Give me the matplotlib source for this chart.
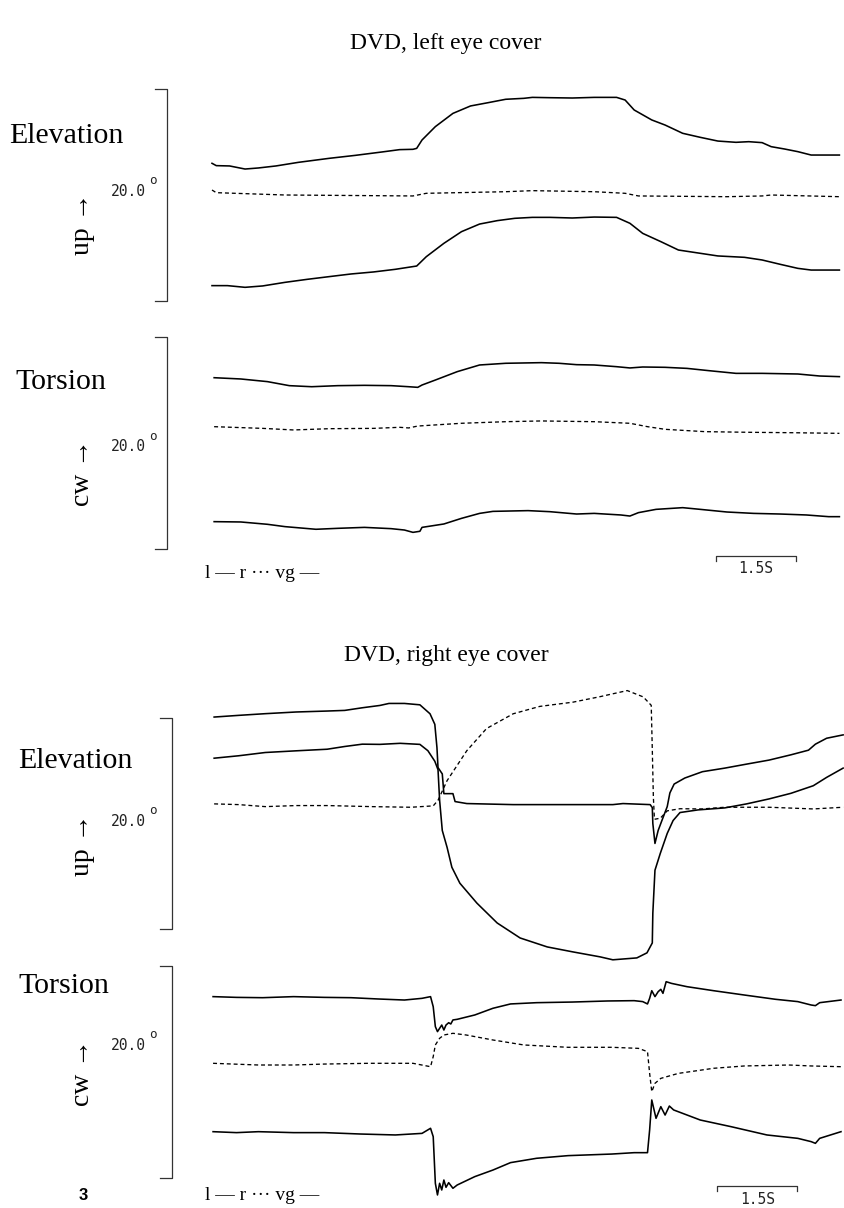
import matplotlib
matplotlib.use("Agg")
import matplotlib.pyplot as plt
from matplotlib.transforms import blended_transform_factory

# ---------------- data (time in s, position in deg above bracket bottom) -------------
# Panel 1: DVD, left eye cover -- Elevation
le_el_l_t = [0, 0.08, 0.33, 0.62, 0.87, 1.20, 1.62, 2.20, 2.69, 3.19, 3.52, 3.77, 3.84, 3.94,
             4.19, 4.52, 4.85, 5.18, 5.51, 5.85, 6.01, 6.34, 6.76, 7.17, 7.59, 7.75, 7.92, 8.25,
             8.50, 8.83, 9.16, 9.49, 9.83, 10.07, 10.32, 10.49, 10.74, 10.99, 11.24, 11.48, 11.77]
le_el_l = [12.99, 12.77, 12.74, 12.45, 12.55, 12.74, 13.08, 13.46, 13.74, 14.06, 14.28, 14.31,
           14.40, 15.19, 16.45, 17.70, 18.40, 18.71, 19.03, 19.12, 19.21, 19.18, 19.15, 19.21,
           19.21, 18.96, 18.02, 17.08, 16.60, 15.82, 15.44, 15.09, 14.97, 15.03, 14.94, 14.56,
           14.34, 14.09, 13.77, 13.77, 13.77]
le_el_r_t = [0, 0.08, 1.37, 3.77, 4.02, 5.51, 6.01, 7.17, 7.75, 8.00, 9.66, 10.32, 10.49, 11.77]
le_el_r = [10.47, 10.22, 10.00, 9.91, 10.16, 10.31, 10.41, 10.31, 10.16, 9.91, 9.84, 9.91,
           10.00, 9.84]
le_el_vg_t = [0, 0.29, 0.62, 0.95, 1.37, 1.78, 2.20, 2.61, 3.03, 3.44, 3.84, 4.02, 4.35, 4.68,
              5.02, 5.35, 5.68, 6.01, 6.34, 6.76, 7.17, 7.59, 7.84, 8.08, 8.42, 8.75, 9.08,
              9.49, 9.99, 10.32, 10.66, 10.99, 11.24, 11.77]
le_el_vg = [1.45, 1.45, 1.29, 1.42, 1.76, 2.04, 2.30, 2.55, 2.74, 2.99, 3.30, 4.18, 5.44, 6.54,
            7.26, 7.58, 7.80, 7.89, 7.89, 7.83, 7.92, 7.89, 7.33, 6.38, 5.60, 4.81, 4.56,
            4.25, 4.12, 3.87, 3.46, 3.08, 2.92, 2.92]

# Panel 1: Torsion
le_to_l_t = [0.04, 0.54, 1.04, 1.45, 1.87, 2.36, 2.86, 3.36, 3.69, 3.86, 3.94, 4.19, 4.60, 5.02,
             5.51, 6.18, 6.51, 6.84, 7.17, 7.59, 7.84, 8.08, 8.50, 8.91, 9.33, 9.83, 10.32,
             10.99, 11.40, 11.77]
le_to_l = [16.16, 16.04, 15.79, 15.41, 15.31, 15.41, 15.44, 15.41, 15.31, 15.25, 15.47, 15.94,
           16.73, 17.36, 17.52, 17.58, 17.52, 17.39, 17.36, 17.20, 17.08, 17.17, 17.14, 17.04,
           16.82, 16.57, 16.57, 16.51, 16.32, 16.26]
le_to_r_t = [0.04, 0.95, 1.53, 2.20, 3.03, 3.52, 3.69, 3.86, 4.68, 5.51, 6.18, 7.17, 7.84, 8.17,
             8.50, 9.25, 10.07, 10.90, 11.77]
le_to_r = [11.54, 11.38, 11.23, 11.35, 11.38, 11.48, 11.42, 11.60, 11.86, 12.01, 12.08, 12.01,
           11.86, 11.54, 11.29, 11.07, 11.01, 10.97, 10.91]
le_to_vg_t = [0.04, 0.54, 1.04, 1.37, 1.95, 2.36, 2.86, 3.36, 3.61, 3.77, 3.90, 3.94, 4.35, 4.68,
              5.02, 5.27, 5.93, 6.34, 6.84, 7.17, 7.67, 7.84, 8.00, 8.33, 8.83, 9.16, 9.66,
              10.16, 10.66, 11.15, 11.57, 11.77]
le_to_vg = [2.58, 2.55, 2.33, 2.11, 1.86, 1.95, 2.04, 1.92, 1.79, 1.57, 1.67, 2.04, 2.36, 2.89,
            3.36, 3.55, 3.62, 3.52, 3.30, 3.36, 3.21, 3.11, 3.43, 3.74, 3.90, 3.74, 3.49, 3.36,
            3.30, 3.21, 3.05, 3.05]

# Panel 2: DVD, right eye cover -- Elevation
re_el_l_t = [0.04, 0.50, 1.00, 1.58, 2.16, 2.49, 2.82, 3.15, 3.32, 3.61,
             3.90, 4.09, 4.18, 4.22, 4.24, 4.32, 4.35, 4.52, 4.56, 4.78,
             5.65, 6.70, 7.52, 7.71, 8.22, 8.26, 8.27, 8.31, 8.37, 8.44,
             8.54, 8.59, 8.67, 8.87, 9.20, 9.62, 10.03, 10.45, 10.86, 11.19,
             11.32, 11.53, 11.84]
re_el_l = [20.09, 20.25, 20.41, 20.57, 20.66, 20.72, 20.97, 21.19, 21.38, 21.38,
           21.25, 20.40, 19.40, 17.20, 15.30, 14.70, 12.83, 12.83, 12.08, 11.89,
           11.79, 11.79, 11.79, 11.89, 11.79, 11.51, 10.00, 8.11, 9.34, 10.28,
           11.60, 12.90, 13.74, 14.31, 14.91, 15.25, 15.63, 16.01, 16.51, 16.95,
           17.52, 18.08, 18.40]
re_el_r_t = [0.04, 0.50, 1.00, 1.58, 2.16, 2.99, 3.73, 4.15, 4.24, 4.41, 4.78, 5.15, 5.65,
             6.15, 6.77, 7.26, 7.79, 8.09, 8.24, 8.26, 8.28, 8.30, 8.41, 8.54, 8.78, 9.20,
             9.62, 10.45, 11.28, 11.84]
re_el_r = [11.86, 11.79, 11.60, 11.70, 11.70, 11.60, 11.54, 11.67, 12.20, 14.06, 16.90, 19.00,
           20.40, 21.10, 21.50, 22.00, 22.60, 22.00, 21.20, 17.00, 12.50, 10.40, 10.50, 11.20,
           11.40, 11.38, 11.54, 11.54, 11.38, 11.54]
re_el_vg_t = [0.04, 0.50, 1.00, 1.58, 2.16, 2.49, 2.82, 3.15, 3.53, 3.90, 4.05, 4.18, 4.24,
              4.27, 4.32, 4.41, 4.50, 4.65, 4.97, 5.35, 5.78, 6.29, 6.77, 7.28, 7.52, 7.97,
              8.16, 8.26, 8.27, 8.31, 8.41, 8.54, 8.65, 8.78, 9.12, 9.62, 10.03, 10.45, 10.86,
              11.28, 11.53, 11.84]
re_el_vg = [16.19, 16.42, 16.73, 16.89, 17.04, 17.30, 17.52, 17.50, 17.60, 17.50, 16.90, 15.90,
            15.10, 12.20, 9.34, 7.74, 5.85, 4.34, 2.45, 0.57, -0.85, -1.70, -2.17, -2.64, -2.92,
            -2.74, -2.26, -1.32, 1.51, 5.57, 7.17, 9.06, 10.28, 11.04, 11.29, 11.48, 11.86,
            12.33, 12.86, 13.58, 14.37, 15.25]

# Panel 2: Torsion
re_to_l_t = [0.02, 0.46, 0.95, 1.53, 2.11, 2.61, 3.11, 3.61, 3.94, 4.10, 4.15, 4.19, 4.23, 4.27,
             4.31, 4.35, 4.39, 4.44, 4.48, 4.52, 4.60, 4.93, 5.27, 5.60, 6.09, 6.76, 7.42,
             7.92, 8.08, 8.17, 8.21, 8.25, 8.31, 8.37, 8.42, 8.46, 8.52, 8.62, 8.91, 9.41,
             9.99, 10.57, 10.99, 11.24, 11.32, 11.40, 11.80]
re_to_l = [17.11, 17.04, 17.01, 17.11, 17.04, 17.01, 16.89, 16.79, 16.95, 17.11, 16.16, 14.28,
           13.81, 14.12, 14.43, 13.96, 14.43, 14.65, 14.53, 14.91, 14.97, 15.38, 16.01, 16.42,
           16.54, 16.60, 16.70, 16.73, 16.64, 16.42, 16.95, 17.67, 17.11, 17.58, 17.80, 17.42,
           18.52, 18.36, 18.05, 17.67, 17.26, 16.86, 16.64, 16.32, 16.26, 16.54, 16.79]
re_to_r_t = [0.02, 0.87, 1.53, 2.11, 2.94, 3.77, 4.10, 4.15, 4.19, 4.27, 4.35, 4.52, 4.77, 5.27,
             5.85, 6.68, 7.50, 8.00, 8.17, 8.21, 8.25, 8.31, 8.42, 8.75, 9.41, 9.99, 10.82,
             11.24, 11.80]
re_to_r = [10.82, 10.66, 10.66, 10.75, 10.82, 10.82, 10.50, 11.45, 12.55, 13.18, 13.49, 13.65,
           13.49, 13.02, 12.55, 12.33, 12.33, 12.23, 11.92, 9.87, 8.14, 8.93, 9.40, 9.87, 10.35,
           10.57, 10.66, 10.57, 10.50]
re_to_vg_t = [0.02, 0.46, 0.87, 1.53, 2.11, 2.78, 3.44, 3.94, 4.10, 4.15, 4.19, 4.23, 4.27,
              4.31, 4.35, 4.39, 4.44, 4.52, 4.60, 4.93, 5.27, 5.60, 6.09, 6.68, 7.50, 7.92,
              8.17, 8.21, 8.25, 8.33, 8.42, 8.50, 8.58, 8.66, 9.16, 9.74, 10.41, 10.99, 11.24,
              11.32, 11.40, 11.80]
re_to_vg = [4.37, 4.28, 4.37, 4.28, 4.28, 4.15, 4.06, 4.21, 4.69, 3.90, -0.50, -1.60, -0.50,
            -1.13, -0.19, -0.88, -0.44, -0.97, -0.66, 0.13, 0.75, 1.45, 1.86, 2.11, 2.26, 2.39,
            2.39, 4.53, 7.36, 5.63, 6.73, 5.94, 6.79, 6.42, 5.47, 4.84, 4.06, 3.74, 3.43, 3.27,
            3.74, 4.37]

titles = ["DVD, left eye cover", "DVD, right eye cover"]
row_labels = ["Elevation", "Torsion"]
dir_labels = ["up \u2192", "cw \u2192"]
scale_label = "20.0"
time_bar = 1.5
time_bar_label = "1.5S"
legend_text = "l \u2014 r \u00b7\u00b7\u00b7 vg \u2014"
fig_number = "3"

# ---------------- layout ----------------
W, H = 845, 1208
fig = plt.figure(figsize=(W / 100, H / 100), dpi=100)


def fx(x):
    return x / W


def fy(y):
    return 1 - y / H


SERIF = ["Liberation Serif", "DejaVu Serif"]
MONO = ["DejaVu Sans Mono"]
X0, XW = 212, 629
TMAX = 11.8

# per row: (bracket top, bracket bottom, traces, name_x, name_y, dir_y, value_y)
panels = [
    dict(title_y=43, bracket_x=167, rows=[
        (89, 301, (le_el_l_t, le_el_l), (le_el_r_t, le_el_r), (le_el_vg_t, le_el_vg),
         9, 136, 224, 192),
        (337, 549, (le_to_l_t, le_to_l), (le_to_r_t, le_to_r), (le_to_vg_t, le_to_vg),
         15, 382, 473, 447)],
        legend_y=574, bar_t0=9.45, bar_y=556),
    dict(title_y=656, bracket_x=172, rows=[
        (718, 929, (re_el_l_t, re_el_l), (re_el_r_t, re_el_r), (re_el_vg_t, re_el_vg),
         18, 761, 845, 822),
        (966, 1178, (re_to_l_t, re_to_l), (re_to_r_t, re_to_r), (re_to_vg_t, re_to_vg),
         18, 986, 1072, 1046)],
        legend_y=1196, bar_t0=9.48, bar_y=1186),
]

for pi, p in enumerate(panels):
    fig.text(fx(446), fy(p["title_y"]), titles[pi], ha="center", va="center",
             family=SERIF, size=17)
    for ri, (ytop, ybot, l, r, vg, name_x, name_y, dir_y, val_y) in enumerate(p["rows"]):
        ax = fig.add_axes([fx(X0), fy(ybot), XW / W, (ybot - ytop) / H])
        ax.set_xlim(0, TMAX)
        ax.set_ylim(0, 20)
        ax.axis("off")
        ax.plot(l[0], l[1], color="black", lw=1.15, clip_on=False, solid_joinstyle="round")
        ax.plot(vg[0], vg[1], color="black", lw=1.15, clip_on=False, solid_joinstyle="round")
        ax.plot(r[0], r[1], color="black", lw=0.95, clip_on=False, linestyle=(0, (3, 2.2)))
        # 20 deg bracket
        bx = (p["bracket_x"] - X0) / XW
        tx = (p["bracket_x"] - 12 - X0) / XW
        ax.plot([tx, bx, bx, tx], [1, 1, 0, 0], transform=ax.transAxes, color="#333333",
                lw=0.9, clip_on=False)
        # labels
        fig.text(fx(name_x), fy(name_y), row_labels[ri], ha="left", va="center",
                 family=SERIF, size=21.5)
        fig.text(fx(83), fy(dir_y), dir_labels[ri], ha="center", va="center",
                 rotation=90, family=SERIF, size=20)
        fig.text(fx(128), fy(val_y), scale_label, ha="center", va="center",
                 family=MONO, size=10.5, color="#222222")
        fig.text(fx(153), fy(val_y - 11), "o", ha="center", va="center",
                 family=MONO, size=9, color="#222222")
        if ri == 1:
            trans = blended_transform_factory(ax.transData, fig.transFigure)
            t0 = p["bar_t0"]
            ax.plot([t0, t0, t0 + time_bar, t0 + time_bar],
                    [fy(p["bar_y"] + 5), fy(p["bar_y"]), fy(p["bar_y"]), fy(p["bar_y"] + 5)],
                    transform=trans, color="#333333", lw=0.9, clip_on=False)
            ax.text(t0 + time_bar / 2, fy(p["bar_y"] + 13), time_bar_label, transform=trans,
                    ha="center", va="center", family=MONO, size=10.5, color="#222222")
    fig.text(fx(205), fy(p["legend_y"]), legend_text, ha="left", va="center",
             family=SERIF, size=14)

fig.text(fx(83), fy(1196), fig_number, ha="center", va="center",
         family=["Liberation Sans", "DejaVu Sans"], weight="bold", size=12)

fig.savefig("out.png", dpi=100, facecolor="white")
